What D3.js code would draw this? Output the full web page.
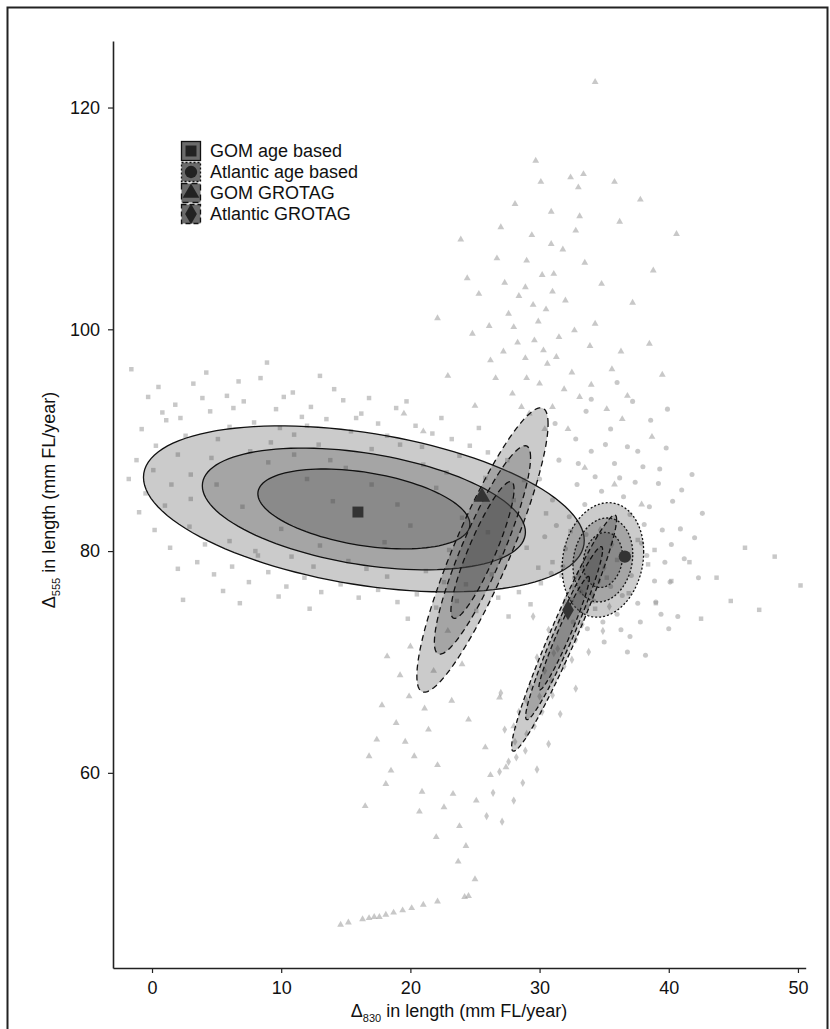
<!DOCTYPE html>
<html>
<head>
<meta charset="utf-8">
<script src="https://cdn.jsdelivr.net/npm/d3@7"></script>
<style>
  body { margin: 0; background: #fff; }
  text { font-family: "Liberation Sans", Arial, sans-serif; fill: #111; }
</style>
</head>
<body>
<svg id="chart" width="830" height="1029"></svg>
<script>
// groups: GOM age based, Atlantic age based, GOM GROTAG, Atlantic GROTAG
const groups = ['GOM age based', 'Atlantic age based', 'GOM GROTAG', 'Atlantic GROTAG'];
const shapes = ['square', 'circle', 'triangle', 'diamond'];
const dashes = ['none', '2,2', '6,4', '5,3'];

// point estimates (markers)
const markX = [15.94, 36.6, 25.54, 32.2];
const markY = [83.52, 79.5, 84.88, 74.69];

// bivariate normal parameters of the bootstrap clouds (ellipses)
const meanX = [16.4, 34.9, 25.58, 31.9];
const meanY = [83.8, 79.2, 80.1, 72.6];
const sdX = [6.97, 1.29, 2.075, 1.66];
const sdY = [3.06, 2.11, 5.24, 4.35];
const rho = [-0.38, 0.14, 0.886, 0.962];
const levels = [0.95, 0.8, 0.5];

// bootstrap samples
const gomAgePts = [[-1.6,96.4],[0.5,94.8],[1.8,93.2],[3.2,95.1],[4.5,92.6],[5.8,94.0],[7.1,93.5],[8.4,95.6],[9.6,92.8],[10.9,94.3],[12.3,93.0],[13.5,91.9],[14.8,93.6],[16.2,92.4],[17.5,91.5],[18.9,92.9],[20.4,91.3],[21.7,90.6],[23.2,90.1],[24.6,89.5],[26.0,88.9],[27.5,88.2],[-0.8,91.0],[0.3,89.5],[1.1,91.8],[2.6,90.4],[6.0,91.2],[11.0,90.5],[-1.0,83.5],[-0.5,85.2],[0.2,81.9],[1.4,80.3],[2.4,75.6],[3.5,79.0],[4.8,77.9],[6.2,78.6],[7.5,77.2],[9.0,78.1],[10.4,76.8],[11.8,77.6],[13.1,76.3],[14.6,77.0],[16.0,75.8],[17.5,76.5],[19.0,75.4],[20.5,76.1],[22.0,74.9],[23.6,75.5],[25.1,74.6],[26.8,75.8],[28.4,76.3],[30.1,77.1],[31.7,77.8],[33.3,78.4],[35.2,77.6],[36.9,76.2],[38.4,78.8],[40.2,77.3],[41.6,79.0],[43.7,77.6],[45.9,80.3],[47.0,74.7],[48.2,79.5],[50.2,76.9],[44.8,75.5],[39.0,75.3],[42.5,73.9],
  [0.8,92.5],[2.0,88.7],[3.9,93.8],[5.1,90.1],[6.7,95.3],[7.9,91.6],[9.2,89.8],[10.2,93.9],[11.6,92.1],[12.9,89.6],[14.1,94.6],[15.4,90.8],[16.8,93.8],[18.2,90.4],[19.7,93.5],[20.9,89.4],[22.4,92.0],[23.8,88.6],[25.3,91.1],[-1.2,88.2],[-0.3,93.9],[3.0,86.9],[4.2,96.1],[8.9,97.0],[13.0,95.8],[17.0,89.2],[1.5,86.0],
  [2.9,82.2],[4.1,80.6],[5.5,76.4],[8.2,79.6],[9.8,75.9],[12.5,78.6],[15.2,79.1],[18.2,77.7],[21.2,78.2],[24.3,77.0],[27.6,74.1],[29.3,75.2],[32.5,75.6],[34.3,74.8],[36.0,79.2],[37.6,81.0],[38.9,80.1],[19.8,73.9],[12.2,74.8],[6.8,75.3],
  [5,86],[7,84],[9,88],[10,82],[12,86.5],[13,80.5],[14,84.5],[17,86],[18,80.8],[19,84.2],[20,82.3],[22,85.7],[23,80.1],[24,83],[26,81.7],[27,79.4],[28,84.6],[29,80.3],[31,79],[8,80],[3,84.7],[11,88.7],[15,87.5],[21,87.8],
  [0.1,87.3],[1.0,84.1],[2.2,92.0],[4.6,88.4],[6.3,92.9],[7.6,89.0],[9.9,91.1],[12.0,91.3],[13.8,88.2],[15.8,92.0],[19.2,89.6],[22.8,87.1],[25.8,86.6],[28.8,86.4],[30.5,83.4],[32.4,81.8],[29.9,78.5],[26.3,77.9],[22.6,77.2],[16.6,78.4],[10.8,79.5],[6.0,80.9],[2.0,78.4],[-1.8,86.5]];
const atlAgePts = [[31.5,88.2],[32.8,90.1],[34.0,89.0],[35.5,91.0],[36.8,89.4],[38.0,87.6],[39.2,86.1],[40.3,84.5],[40.9,82.0],[41.2,79.3],[40.1,77.2],[39.0,75.4],[37.8,73.6],[36.3,72.9],[31.0,84.6],[30.4,81.3],[30.9,78.0],[32.0,75.2],[38.6,91.8],[37.2,93.5],[33.6,92.6],[39.8,89.3],[41.8,86.9],[42.6,83.4],[35.0,71.8],[33.7,73.0],[40.7,74.1],[38.2,70.6],
  [33.5,84.2],[34.3,86.7],[35.8,87.9],[37.4,86.2],[38.5,84.0],[39.5,81.9],[39.7,79.0],[38.9,77.3],[37.6,75.3],[36.0,74.3],[34.2,75.5],[32.7,77.6],[32.0,80.2],[32.3,83.1],[36.5,84.9],[37.9,80.7],[33.6,81.5],[35.5,76.8],[41.0,85.5],[42.0,81.2],[42.3,77.6],[40.0,73.0],[36.8,70.9],[34.0,93.7],[36.0,95.2],[31.2,91.5],[39.9,92.8],[30.0,86.5],
  [32.9,86.0],[34.8,85.4],[36.2,86.6],[37.0,83.3],[38.1,82.4],[38.3,79.6],[37.1,77.8],[36.4,76.0],[34.9,73.6],[33.2,76.3],[31.8,78.6],[31.3,82.3],[33.0,87.9],[35.1,89.6],[37.6,89.0],[39.3,87.4],[40.2,80.6],[39.4,74.3],[37.0,72.3],[32.6,73.6]];
const gomGrotagPts = [[34.3,122.3],[32.4,113.7],[33.0,112.8],[28.1,111.3],[30.9,110.6],[36.2,109.7],[23.9,108.1],[29.4,108.5],[31.8,107.2],[26.7,106.4],[33.5,106.0],[37.8,111.7],[30.2,104.9],[28.9,103.8],[25.3,103.2],[32.0,102.6],[34.8,104.1],[27.6,101.4],[29.9,100.7],[31.5,99.3],[24.8,99.6],[33.9,98.5],[26.2,97.2],[35.6,96.4],[22.9,95.8],[30.6,96.9],[19.5,92.4],[21.0,90.8],[36.8,94.0],[38.5,98.7],[40.6,108.6],[17.8,66.1],[18.9,64.5],[19.6,62.8],[20.3,61.5],[18.5,60.2],[21.4,63.9],[22.1,60.7],[23.2,66.5],[24.5,64.8],[25.8,62.3],[26.9,66.8],[28.0,64.2],[20.9,58.3],[16.5,57.0],[23.8,55.2],[24.3,53.4],[25.0,50.4],[22.6,56.9],[27.4,60.5],[14.6,46.3],[15.2,46.5],[16.3,46.8],[16.8,46.9],[17.2,47.0],[17.6,47.0],[18.1,47.2],[18.7,47.4],[19.4,47.6],[20.1,47.8],[21.0,48.1],[22.1,48.4],[24.2,48.8],[24.5,48.9],
  [27.0,109.2],[29.0,106.2],[31.1,105.0],[32.8,108.9],[30.1,113.3],[33.4,114.0],[28.3,98.8],[29.0,95.6],[31.0,93.0],[32.5,96.1],[34.3,100.5],[30.5,101.8],[26.1,100.3],[27.9,94.2],[25.0,93.1],[35.2,92.8],[36.3,98.0],[37.2,102.4],[33.1,110.2],[24.4,104.6],[35.8,113.3],[29.7,115.2],[22.1,101.0],[38.8,105.3],[39.5,95.9],
  [19.2,68.8],[20.0,71.4],[21.8,69.2],[18.2,70.5],[22.9,72.8],[24.0,69.8],[19.9,66.9],[21.1,65.8],[17.4,63.0],[18.1,59.0],[20.7,56.5],[22.0,54.2],[23.3,58.1],[16.8,61.5],[25.1,57.5],[26.2,59.8],[23.7,52.0],
  [33.5,87.5],[35.8,86.0],[37.9,84.2],[38.7,90.3],[36.4,91.9],[34.0,95.0],
  [27.2,98.0],[28.0,100.2],[28.9,97.4],[29.6,99.0],[30.3,98.1],[31.3,97.5],[30.0,95.1],[31.9,94.6],[29.2,92.4],[30.4,91.0],[28.4,103.0],[31.0,103.4],[29.5,102.2],[27.3,104.2],[32.7,99.9],[26.6,95.6],[33.1,93.9],[32.2,91.0],[28.6,93.0],[30.9,107.7]];
const atlGrotagPts = [[27.6,61.0],[28.1,62.8],[28.9,62.0],[27.3,63.9],[29.6,64.2],[28.4,65.5],[30.0,66.9],[29.3,67.8],[30.9,68.3],[29.8,70.4],[31.4,71.2],[32.5,70.2],[30.7,72.9],[33.3,73.4],[32.0,75.6],[34.1,76.0],[33.0,77.9],[35.0,78.5],[26.4,58.2],[25.9,56.1],[28.7,59.1],[31.6,65.3],[27.0,67.2],[33.8,70.9],[29.5,74.1],
  [26.9,60.1],[28.2,61.4],[29.0,63.5],[30.2,65.5],[29.0,66.5],[31.0,67.0],[30.4,69.2],[31.9,69.6],[31.1,70.8],[32.8,72.0],[31.6,73.8],[33.7,75.0],[32.6,76.8],[34.6,77.3],[33.8,79.3],[35.6,80.6],[34.7,81.9],[28.0,57.5],[27.1,55.6],[30.7,62.6],[32.8,67.6],[34.9,72.8],[35.4,75.0],[29.8,60.3]];
const samples = [gomAgePts, atlAgePts, gomGrotagPts, atlGrotagPts];

const xTicks = [0, 10, 20, 30, 40, 50];
const yTicks = [60, 80, 100, 120];

const svg = d3.select('#chart');

// figure frame
svg.append('rect')
  .attr('x', 7.5).attr('y', 7.5)
  .attr('width', 820).attr('height', 1040)
  .attr('fill', 'none').attr('stroke', '#222').attr('stroke-width', 2);

const x = d3.scaleLinear().domain([-3.02, 50.6]).range([113, 805.7]);
const y = d3.scaleLinear().domain([42.4, 126.0]).range([968, 41]);

const symbolType = {
  square: d3.symbolSquare,
  circle: d3.symbolCircle,
  triangle: d3.symbolTriangle,
  diamond: d3.symbolDiamond
};

// scatter of samples
samples.forEach((pts, i) => {
  svg.append('g').selectAll('path')
    .data(pts)
    .enter()
    .append('path')
    .attr('d', d3.symbol().type(symbolType[shapes[i]]).size(20))
    .attr('transform', (d) => `translate(${x(d[0])},${y(d[1])})`)
    .attr('fill', '#9a9a9a')
    .attr('opacity', 0.55);
});

const ellipse = (i, p) => {
  const k = Math.sqrt(-2 * Math.log(1 - p));
  const r = Math.sqrt(1 - rho[i] * rho[i]);
  return d3.range(0, 360, 3).map((a) => {
    const t = a * Math.PI / 180;
    const z1 = k * Math.cos(t), z2 = k * Math.sin(t);
    return [meanX[i] + sdX[i] * z1, meanY[i] + sdY[i] * (rho[i] * z1 + r * z2)];
  });
};
const line = d3.line().x((d) => x(d[0])).y((d) => y(d[1])).curve(d3.curveLinearClosed);

const drawOrder = [0, 2, 1, 3];
drawOrder.forEach((i) => {
  const g = svg.append('g');
  levels.forEach((p) => {
    g.append('path')
      .attr('d', line(ellipse(i, p)))
      .attr('fill', '#444')
      .attr('fill-opacity', 0.28)
      .attr('stroke', '#111')
      .attr('stroke-width', 1.3)
      .attr('stroke-dasharray', dashes[i]);
  });
});

// point estimates
svg.append('g').selectAll('path')
  .data(groups)
  .enter()
  .append('path')
  .attr('d', (d, i) => d3.symbol().type(symbolType[shapes[i]]).size(120)())
  .attr('transform', (d, i) => `translate(${x(markX[i])},${y(markY[i])})`)
  .attr('fill', '#333');

// axes
const xAxis = svg.append('g')
  .attr('transform', 'translate(0,968)')
  .call(d3.axisBottom(x).tickValues(xTicks).tickSize(5).tickSizeOuter(0).tickPadding(8));
const yAxis = svg.append('g')
  .attr('transform', 'translate(113,0)')
  .call(d3.axisLeft(y).tickValues(yTicks).tickSize(5).tickSizeOuter(0).tickPadding(8));
[xAxis, yAxis].forEach((a) => {
  a.select('.domain').attr('stroke', '#222').attr('stroke-width', 1.6);
  a.selectAll('.tick line').attr('stroke', '#222').attr('stroke-width', 1.2);
  a.selectAll('.tick text').attr('font-size', 18).attr('fill', '#111')
    .attr('font-family', '"Liberation Sans", Arial, sans-serif');
});

// axis titles
const xt = svg.append('text')
  .attr('x', 459).attr('y', 1017)
  .attr('text-anchor', 'middle')
  .attr('font-size', 18);
xt.append('tspan').text('Δ');
xt.append('tspan').attr('font-size', 11).attr('dy', 5).text('830');
xt.append('tspan').attr('dy', -5).text(' in length (mm FL/year)');

const yt = svg.append('text')
  .attr('transform', 'translate(55,500) rotate(-90)')
  .attr('text-anchor', 'middle')
  .attr('font-size', 18);
yt.append('tspan').text('Δ');
yt.append('tspan').attr('font-size', 11).attr('dy', 5).text('555');
yt.append('tspan').attr('dy', -5).text(' in length (mm FL/year)');

// legend
const legend = svg.append('g').attr('transform', 'translate(181,141)');
const rowH = 21;
const rows = legend.selectAll('g')
  .data(groups)
  .enter()
  .append('g')
  .attr('transform', (d, i) => `translate(0,${i * rowH})`);
rows.append('rect')
  .attr('x', 0.5).attr('y', 0.5)
  .attr('width', 19).attr('height', 19)
  .attr('fill', '#6b6b6b')
  .attr('stroke', '#111')
  .attr('stroke-width', 1.3)
  .attr('stroke-dasharray', (d, i) => dashes[i]);
rows.append('path')
  .attr('d', (d, i) => d3.symbol().type(symbolType[shapes[i]]).size(120)())
  .attr('transform', 'translate(10,10)')
  .attr('fill', '#222');
rows.append('text')
  .attr('x', 29).attr('y', 16)
  .attr('font-size', 18)
  .text((d) => d);
</script>
</body>
</html>
